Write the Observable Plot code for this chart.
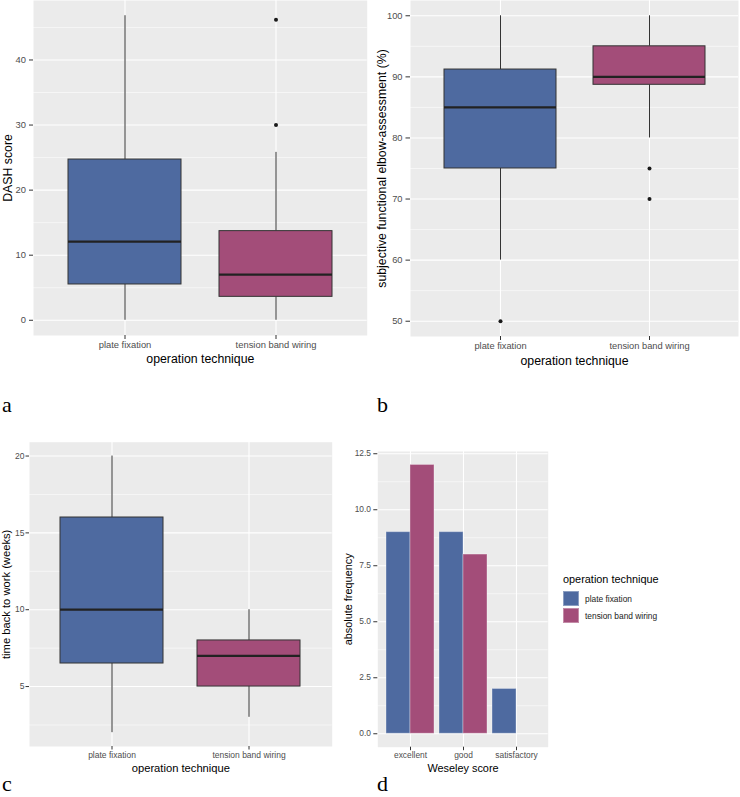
<!DOCTYPE html>
<html>
<head>
<meta charset="utf-8">
<script src="https://cdn.jsdelivr.net/npm/d3@7"></script>
<script src="https://cdn.jsdelivr.net/npm/@observablehq/plot@0.6"></script>
<style>
  html, body { margin: 0; padding: 0; background: #fff; }
  #root { position: relative; width: 740px; height: 797px; overflow: hidden; font-family: 'Liberation Sans', Arial, sans-serif; }
  .panel { position: absolute; }
  .tag { position: absolute; font-family: 'Liberation Serif', 'Times New Roman', serif; font-size: 22px; line-height: 18px; height: 18px; color: #000; }
  .legend { position: absolute; left: 563px; top: 572px; font-family: 'Liberation Sans', Arial, sans-serif; color: #000; }
  .legend .ltitle { font-size: 10.9px; line-height: 14px; margin-bottom: 4px; white-space: nowrap; }
  .legend .row { display: flex; align-items: center; height: 17px; white-space: nowrap; }
  .legend .sw { width: 16px; height: 15.5px; margin-right: 6px; box-sizing: border-box; border: 1px solid rgba(255,255,255,0.35); }
  .legend .lab { font-size: 8.4px; color: #1a1a1a; }
</style>
</head>
<body>
<div id="root"></div>
<script>
// ---------- data ----------
const techniques = ["plate fixation", "tension band wiring"];
const techColors = ["#4E6AA0", "#A34D79"];

// panel a: DASH score
const dashLow = [0, 0];
const dashQ1 = [5.5, 3.6];
const dashMedian = [12.1, 7.0];
const dashQ3 = [24.7, 13.7];
const dashHigh = [46.8, 25.8];
const dashOutlierTech = ["tension band wiring", "tension band wiring"];
const dashOutlierValue = [30, 46.2];
const dashTicks = [0, 10, 20, 30, 40];

// panel b: subjective functional elbow-assessment (%)
const elbowLow = [60, 80];
const elbowQ1 = [75, 88.7];
const elbowMedian = [85, 90];
const elbowQ3 = [91.2, 95];
const elbowHigh = [100, 100];
const elbowOutlierTech = ["plate fixation", "tension band wiring", "tension band wiring"];
const elbowOutlierValue = [50, 75, 70];
const elbowTicks = [50, 60, 70, 80, 90, 100];

// panel c: time back to work (weeks)
const workLow = [2, 3];
const workQ1 = [6.5, 5];
const workMedian = [10, 7];
const workQ3 = [16, 8];
const workHigh = [20, 10];
const workOutlierTech = [];
const workOutlierValue = [];
const workTicks = [5, 10, 15, 20];

// panel d: Weseley score
const weseleyCategories = ["excellent", "good", "satisfactory"];
const plateCounts = [9, 9, 2];
const tensionCounts = [12, 8, 0];
const freqTicks = [0, 2.5, 5, 7.5, 10, 12.5];

// ---------- helpers ----------
const FONT = "'Liberation Sans', Arial, sans-serif";
function minorTicks(ticks, domain) {
  const step = ticks[1] - ticks[0];
  const out = [];
  for (let v = ticks[0] - step / 2; v <= ticks[ticks.length - 1] + step / 2 + 1e-9; v += step) {
    if (v >= domain[0] && v <= domain[1]) out.push(v);
  }
  return out;
}
function expand(values) {
  const lo = Math.min(...values), hi = Math.max(...values), pad = (hi - lo) * 0.05;
  return [lo - pad, hi + pad];
}

function boxPanel(cfg) {
  const boxes = techniques.map((t, i) => ({
    tech: t, low: cfg.low[i], q1: cfg.q1[i], med: cfg.med[i], q3: cfg.q3[i], high: cfg.high[i]
  }));
  const outliers = cfg.outTech.map((t, i) => ({tech: t, value: cfg.outVal[i]}));
  const domain = expand([...cfg.low, ...cfg.high, ...cfg.outVal]);
  return Plot.plot({
    width: cfg.width, height: cfg.height,
    marginLeft: cfg.ml, marginRight: cfg.mr, marginTop: cfg.mt, marginBottom: cfg.mb,
    style: {fontFamily: FONT, background: "transparent", overflow: "visible"},
    x: {type: "band", domain: techniques, paddingInner: 0.25, paddingOuter: 0.225},
    y: {domain},
    color: {domain: techniques, range: techColors},
    marks: [
      Plot.frame({fill: "#EBEBEB", stroke: "none"}),
      Plot.gridY(minorTicks(cfg.ticks, domain), {stroke: "#fff", strokeOpacity: 1, strokeWidth: 0.55}),
      Plot.gridY(cfg.ticks, {stroke: "#fff", strokeOpacity: 1, strokeWidth: 1.1}),
      Plot.gridX(techniques, {stroke: "#fff", strokeOpacity: 1, strokeWidth: 1.1}),
      Plot.ruleX(boxes, {x: "tech", y1: "low", y2: "q1", stroke: "#333", strokeWidth: 1}),
      Plot.ruleX(boxes, {x: "tech", y1: "q3", y2: "high", stroke: "#333", strokeWidth: 1}),
      Plot.barY(boxes, {x: "tech", y1: "q1", y2: "q3", fill: "tech", stroke: "#333", strokeWidth: 1}),
      Plot.tickY(boxes, {x: "tech", y: "med", stroke: "#222", strokeWidth: 2.2}),
      Plot.dot(outliers, {x: "tech", y: "value", r: 2, fill: "#1A1A1A", stroke: "none"}),
      Plot.axisY(cfg.ticks, {tickSize: cfg.yTick, tickPadding: cfg.yPad, fontSize: cfg.tickFont,
        stroke: "#333", fill: "#4D4D4D", label: null}),
      Plot.axisX(techniques, {tickSize: cfg.xTick, tickPadding: cfg.xPad, fontSize: cfg.tickFont,
        stroke: "#333", fill: "#4D4D4D", label: null}),
      Plot.text([cfg.xTitle], {frameAnchor: "bottom", dy: cfg.xTitleDy, fontSize: cfg.titleFont,
        fill: "#000", textAnchor: "middle", lineAnchor: "middle"}),
      Plot.text([cfg.yTitle], {frameAnchor: "left", dx: cfg.yTitleDx, rotate: -90, fontSize: cfg.titleFont,
        fill: "#000", textAnchor: "middle", lineAnchor: "middle"})
    ]
  });
}

function place(node, left, top) {
  const d = document.createElement("div");
  d.className = "panel";
  d.style.left = left + "px";
  d.style.top = top + "px";
  d.appendChild(node);
  document.getElementById("root").appendChild(d);
}
function tag(text, left, top) {
  const d = document.createElement("div");
  d.className = "tag";
  d.style.left = left + "px";
  d.style.top = top + "px";
  d.textContent = text;
  document.getElementById("root").appendChild(d);
}

// ---------- panel a ----------
place(boxPanel({
  low: dashLow, q1: dashQ1, med: dashMedian, q3: dashQ3, high: dashHigh,
  outTech: dashOutlierTech, outVal: dashOutlierValue, ticks: dashTicks,
  width: 370, height: 370, ml: 33, mr: 3.3, mt: 0, mb: 35,
  yTick: 4, yPad: 3.5, xTick: 4, xPad: 1.8, tickFont: 9.4, titleFont: 12.3,
  xTitle: "operation technique", xTitleDy: 24, yTitle: "DASH score", yTitleDx: -25
}), 0, 0);

// ---------- panel b ----------
place(boxPanel({
  low: elbowLow, q1: elbowQ1, med: elbowMedian, q3: elbowQ3, high: elbowHigh,
  outTech: elbowOutlierTech, outVal: elbowOutlierValue, ticks: elbowTicks,
  width: 370, height: 370, ml: 40, mr: 2, mt: 0, mb: 34,
  yTick: 4.5, yPad: 3.5, xTick: 4, xPad: 2, tickFont: 9.3, titleFont: 12.3,
  xTitle: "operation technique", xTitleDy: 24.5, yTitle: "subjective functional elbow-assessment (%)", yTitleDx: -28.3
}), 370, 0);

// ---------- panel c ----------
place(boxPanel({
  low: workLow, q1: workQ1, med: workMedian, q3: workQ3, high: workHigh,
  outTech: workOutlierTech, outVal: workOutlierValue, ticks: workTicks,
  width: 340, height: 350, ml: 29, mr: 8.3, mt: 1.7, mb: 44,
  yTick: 3.5, yPad: 1.5, xTick: 3.5, xPad: 2.4, tickFont: 8.5, titleFont: 11.2,
  xTitle: "operation technique", xTitleDy: 22.3, yTitle: "time back to work (weeks)", yTitleDx: -23
}), 0, 440);

// ---------- panel d ----------
(function () {
  const rows = [];
  weseleyCategories.forEach((c, i) => {
    rows.push({cat: c, tech: techniques[0], n: plateCounts[i]});
    rows.push({cat: c, tech: techniques[1], n: tensionCounts[i]});
  });
  const width = 410, ml = 47.3, mr = 192.3;
  const paddingInner = 0.1, paddingOuter = 0.15;
  const step = (width - ml - mr) / (weseleyCategories.length - paddingInner + 2 * paddingOuter);
  const half = step * (1 - paddingInner) / 2;
  const maxN = Math.max(...tensionCounts, ...plateCounts);
  const domain = [0 - 0.05 * maxN, maxN * 1.05];
  const chart = Plot.plot({
    width, height: 350, marginLeft: ml, marginRight: mr, marginTop: 11, marginBottom: 43.3,
    style: {fontFamily: FONT, background: "transparent", overflow: "visible"},
    x: {type: "band", domain: weseleyCategories, paddingInner, paddingOuter},
    y: {domain},
    color: {domain: techniques, range: techColors},
    marks: [
      Plot.frame({fill: "#EBEBEB", stroke: "none"}),
      Plot.gridY(minorTicks(freqTicks, domain), {stroke: "#fff", strokeOpacity: 1, strokeWidth: 0.55}),
      Plot.gridY(freqTicks, {stroke: "#fff", strokeOpacity: 1, strokeWidth: 1.1}),
      Plot.gridX(weseleyCategories, {stroke: "#fff", strokeOpacity: 1, strokeWidth: 1.1}),
      Plot.barY(rows.filter(d => d.tech === techniques[0] && d.n > 0),
        {x: "cat", y: "n", fill: "tech", insetRight: half, stroke: "#fff", strokeOpacity: 0.35, strokeWidth: 1}),
      Plot.barY(rows.filter(d => d.tech === techniques[1] && d.n > 0),
        {x: "cat", y: "n", fill: "tech", insetLeft: half, stroke: "#fff", strokeOpacity: 0.35, strokeWidth: 1}),
      Plot.axisY(freqTicks, {tickSize: 4, tickPadding: 2.8, fontSize: 8.4, tickFormat: d3.format(".1f"),
        stroke: "#333", fill: "#4D4D4D", label: null}),
      Plot.axisX(weseleyCategories, {tickSize: 3.5, tickPadding: 1.7, fontSize: 8.4,
        stroke: "#333", fill: "#4D4D4D", label: null}),
      Plot.text(["Weseley score"], {frameAnchor: "bottom", dy: 21, fontSize: 10.9, fill: "#000",
        textAnchor: "middle", lineAnchor: "middle"}),
      Plot.text(["absolute frequency"], {frameAnchor: "left", dx: -29.8, rotate: -90, fontSize: 10.9,
        fill: "#000", textAnchor: "middle", lineAnchor: "middle"})
    ]
  });
  place(chart, 330, 440);

  // legend
  const lg = document.createElement("div");
  lg.className = "legend";
  const t = document.createElement("div");
  t.className = "ltitle";
  t.textContent = "operation technique";
  lg.appendChild(t);
  techniques.forEach((name, i) => {
    const r = document.createElement("div");
    r.className = "row";
    const sw = document.createElement("div");
    sw.className = "sw";
    sw.style.background = techColors[i];
    const lab = document.createElement("span");
    lab.className = "lab";
    lab.textContent = name;
    r.appendChild(sw);
    r.appendChild(lab);
    lg.appendChild(r);
  });
  document.getElementById("root").appendChild(lg);
})();

// panel tags
tag("a", 2, 396);
tag("b", 377, 396);
tag("c", 2, 775);
tag("d", 377, 775);
</script>
</body>
</html>
